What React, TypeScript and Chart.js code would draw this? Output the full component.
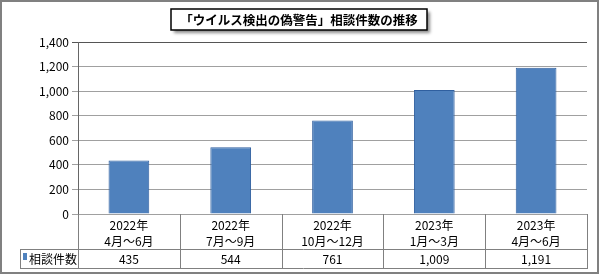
import { useEffect, useRef } from "react";
import { Chart, registerables } from "chart.js";
Chart.register(...registerables);

const chartTitle = "「ウイルス検出の偽警告」相談件数の推移";
const categoryYears = ["2022年", "2022年", "2022年", "2023年", "2023年"];
const categoryMonths = ["4月～6月", "7月～9月", "10月～12月", "1月～3月", "4月～6月"];
const seriesName = "相談件数";
const counts = [435, 544, 761, 1009, 1191];
const yMin = 0;
const yMax = 1400;
const yStep = 200;

const FONT = '"Noto Sans CJK JP", "Noto Sans", sans-serif';
const BAR_FILL = "#4f81bd";
const BAR_EDGE = "#2f5f9f";

const fmt = (v: number) => v.toLocaleString("en-US");

const decorPlugin = {
  id: "decor",
  afterDraw(chart: any) {
    const ctx: CanvasRenderingContext2D = chart.ctx;
    const area = chart.chartArea;
    const xs = chart.scales.x;
    const n = categoryYears.length;
    const colW = (area.right - area.left) / n;
    const tTop = area.bottom;
    const r1 = tTop + 35;
    const r2 = r1 + 19;
    const tLeft = 20;
    ctx.save();
    // table lines
    ctx.strokeStyle = "#808080";
    ctx.lineWidth = 1;
    ctx.beginPath();
    ctx.moveTo(tLeft, Math.round(r1) + 0.5);
    ctx.lineTo(area.right, Math.round(r1) + 0.5);
    ctx.moveTo(tLeft, Math.round(r2) + 0.5);
    ctx.lineTo(area.right, Math.round(r2) + 0.5);
    ctx.moveTo(tLeft + 0.5, Math.round(r1));
    ctx.lineTo(tLeft + 0.5, Math.round(r2) + 1);
    for (let k = 0; k <= n; k++) {
      const x = Math.round(area.left + k * colW) + 0.5;
      ctx.moveTo(x, Math.round(tTop));
      ctx.lineTo(x, Math.round(r2) + 1);
    }
    ctx.stroke();
    // table text
    ctx.fillStyle = "#000";
    ctx.textAlign = "center";
    ctx.textBaseline = "middle";
    ctx.font = `12px ${FONT}`;
    for (let i = 0; i < n; i++) {
      const cx = xs.getPixelForValue(i);
      ctx.fillText(categoryYears[i], cx, tTop + 11);
      ctx.fillText(categoryMonths[i], cx, tTop + 27);
      ctx.fillText(fmt(counts[i]), cx, r1 + 10);
    }
    // legend key
    ctx.fillStyle = BAR_FILL;
    ctx.fillRect(23, r1 + 4, 4, 7);
    ctx.fillStyle = "#000";
    ctx.textAlign = "left";
    ctx.fillText(seriesName, 29, r1 + 10);
    // outer border
    ctx.strokeStyle = "#808080";
    ctx.lineWidth = 2;
    ctx.strokeRect(1, 1, 597, 272);
    // title box
    const bx = 171, by = 9, bw = 256, bh = 21;
    ctx.save();
    ctx.shadowColor = "rgba(0,0,0,0.45)";
    ctx.shadowBlur = 3;
    ctx.shadowOffsetX = 3;
    ctx.shadowOffsetY = 3;
    ctx.fillStyle = "#fff";
    ctx.fillRect(bx, by, bw, bh);
    ctx.restore();
    ctx.strokeStyle = "#000";
    ctx.lineWidth = 1.5;
    ctx.strokeRect(bx, by, bw, bh);
    ctx.fillStyle = "#000";
    ctx.textAlign = "center";
    ctx.textBaseline = "middle";
    ctx.font = `bold 12.5px ${FONT}`;
    ctx.fillText(chartTitle, bx + bw / 2, by + bh / 2 + 1);
    ctx.restore();
  },
};

export default function App() {
  const ref = useRef<HTMLCanvasElement | null>(null);
  useEffect(() => {
    if (!ref.current) return;
    const chart = new Chart(ref.current, {
      type: "bar",
      data: {
        labels: categoryMonths,
        datasets: [
          {
            label: seriesName,
            data: counts,
            backgroundColor: BAR_FILL,
            borderColor: BAR_EDGE,
            borderWidth: 1,
            categoryPercentage: 1,
            barPercentage: 0.4,
          },
        ],
      },
      options: {
        animation: false,
        responsive: false,
        devicePixelRatio: 1,
        layout: { padding: { left: 0, right: 13, top: 42, bottom: 61 } },
        plugins: {
          legend: { display: false },
          title: { display: false },
          tooltip: { enabled: false },
        },
        scales: {
          x: { display: false, offset: true },
          y: {
            min: yMin,
            max: yMax,
            afterFit: (s: any) => {
              s.width = 78;
            },
            ticks: {
              stepSize: yStep,
              padding: 3,
              color: "#000",
              font: { family: FONT, size: 12 },
              callback: (v: any) => fmt(Number(v)),
            },
            grid: {
              color: (c: any) => (c.tick && c.tick.value === yMax ? "#555" : "#a0a0a0"),
              lineWidth: 1,
              tickLength: 6,
              drawTicks: true,
            },
            border: { display: true, color: "#666", width: 1 },
          },
        },
      },
      plugins: [decorPlugin],
    });
    return () => chart.destroy();
  }, []);
  return (
    <div style={{ position: "absolute", left: 0, top: 0, width: 600, height: 275, background: "#fff" }}>
      <canvas ref={ref} width={600} height={275} style={{ display: "block" }} />
    </div>
  );
}
